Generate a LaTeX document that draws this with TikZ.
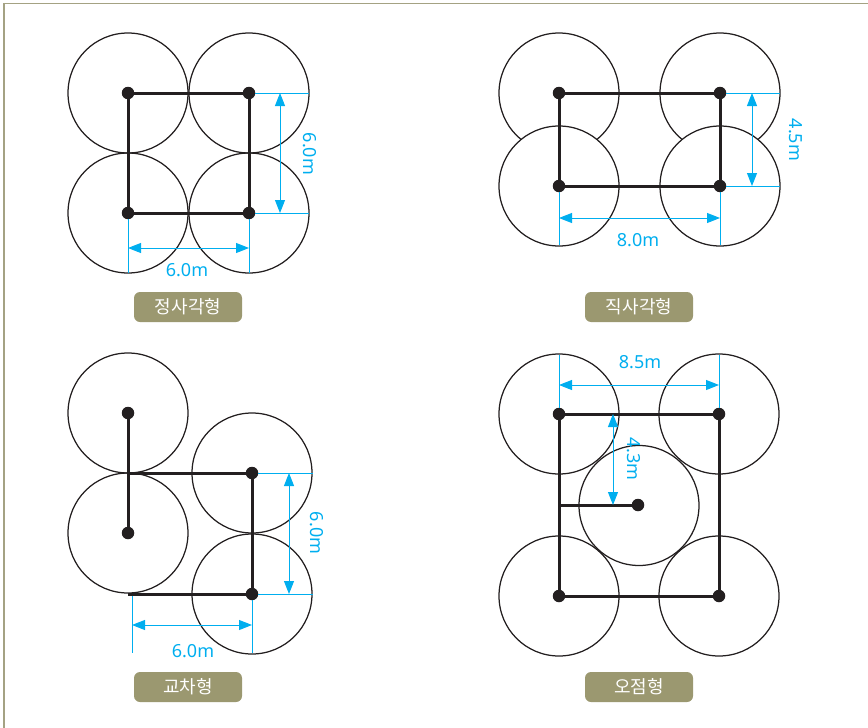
\documentclass[tikz,border=0pt]{standalone}
\usepackage{fontspec}
\setmainfont{Noto Sans}
\newfontfamily\kr{Noto Sans CJK KR}
\usetikzlibrary{arrows.meta}
\definecolor{dimc}{HTML}{00AEEF}
\definecolor{tagc}{HTML}{9B9870}
\definecolor{framec}{HTML}{A4A283}
\definecolor{ink}{HTML}{231F20}
\pgfdeclarelayer{bg}
\pgfsetlayers{bg,main}
\begin{document}
\begin{tikzpicture}[x=1pt,y=-1pt,
  crown/.style={draw=ink, line width=1.25pt},
  crownw/.style={draw=ink, line width=1.25pt, fill=white},
  beam/.style={draw=ink, line width=3pt},
  dot/.style={circle, fill=ink, inner sep=0pt, minimum size=12.5pt},
  ext/.style={draw=dimc, line width=1pt},
  dimarrow/.style={draw=dimc, line width=1pt, {Triangle[length=13pt,width=10pt]}-{Triangle[length=13pt,width=10pt]}},
  dimtxt/.style={text=dimc, inner sep=0pt, font=\fontsize{18}{18}\selectfont},
  tag/.style={fill=tagc, rounded corners=6pt, minimum width=108pt, minimum height=30pt, inner sep=0pt, text=white, font=\kr\fontsize{18}{18}\selectfont}
]
\useasboundingbox (0,0) rectangle (868,728);
% frame
\draw[framec, line width=1.3pt] (4,728) -- (4,3.5) -- (868,3.5);

% ---------------- Panel 1: square ----------------
\node[dot] (a1) at (128,93) {};
\node[dot] (b1) at (249,93) {};
\node[dot] (c1) at (128,213) {};
\node[dot] (d1) at (249,213) {};
\begin{pgfonlayer}{bg}
  \foreach \n in {a1,b1,c1,d1} \draw[crown] (\n.center) circle[radius=60pt];
\end{pgfonlayer}
\draw[beam] (a1.center) -- (b1.center) -- (d1.center) -- (c1.center) -- cycle;
\coordinate (v1a) at (309,93);
\coordinate (v1b) at (309,213);
\draw[ext] (b1.east) -- (v1a);
\draw[ext] (d1.east) -- (v1b);
\coordinate (v1s) at (280,93);
\coordinate (v1e) at (280,213);
\draw[dimarrow] (v1s) -- (v1e);
\node[dimtxt, rotate=-90] (t1v) at (310,154) {6.0m};
\coordinate (h1a) at (128,273);
\coordinate (h1b) at (249,273);
\draw[ext] (c1.south) -- (h1a);
\draw[ext] (d1.south) -- (h1b);
\coordinate (h1s) at (128,248);
\coordinate (h1e) at (249,248);
\draw[dimarrow] (h1s) -- (h1e);
\node[dimtxt] (t1h) at (187,270) {6.0m};
\node[tag] (tag1) at (188,307) {정사각형};

% ---------------- Panel 2: rectangle ----------------
\node[dot] (a2) at (559,93) {};
\node[dot] (b2) at (720,93) {};
\node[dot] (c2) at (559,186) {};
\node[dot] (d2) at (720,186) {};
\begin{pgfonlayer}{bg}
  \draw[crown] (a2.center) circle[radius=60pt];
  \draw[crown] (b2.center) circle[radius=60pt];
  \draw[crownw] (c2.center) circle[radius=60pt];
  \draw[crownw] (d2.center) circle[radius=60pt];
\end{pgfonlayer}
\draw[beam] (a2.center) -- (b2.center) -- (d2.center) -- (c2.center) -- cycle;
\coordinate (v2a) at (780,93);
\coordinate (v2b) at (780,186);
\draw[ext] (b2.east) -- (v2a);
\draw[ext] (d2.east) -- (v2b);
\coordinate (v2s) at (752,93);
\coordinate (v2e) at (752,186);
\draw[dimarrow] (v2s) -- (v2e);
\node[dimtxt, rotate=-90] (t2v) at (796,140) {4.5m};
\coordinate (h2a) at (559,245);
\coordinate (h2b) at (720,245);
\draw[ext] (c2.south) -- (h2a);
\draw[ext] (d2.south) -- (h2b);
\coordinate (h2s) at (559,218);
\coordinate (h2e) at (720,218);
\draw[dimarrow] (h2s) -- (h2e);
\node[dimtxt] (t2h) at (638,240) {8.0m};
\node[tag] (tag2) at (639,307) {직사각형};

% ---------------- Panel 3: staggered ----------------
\node[dot] (a3) at (128,413) {};
\node[dot] (c3) at (128,533) {};
\node[dot] (b3) at (252,473) {};
\node[dot] (d3) at (252,594) {};
\coordinate (j3) at (128,473);
\coordinate (k3) at (128,594);
\begin{pgfonlayer}{bg}
  \foreach \n in {a3,c3,b3,d3} \draw[crown] (\n.center) circle[radius=60pt];
\end{pgfonlayer}
\draw[beam] (a3.center) -- (c3.center);
\draw[beam] (j3) -- (b3.center) -- (d3.center) -- (k3);
\coordinate (v3a) at (313,473);
\coordinate (v3b) at (313,594);
\draw[ext] (b3.east) -- (v3a);
\draw[ext] (d3.east) -- (v3b);
\coordinate (v3s) at (289,473);
\coordinate (v3e) at (289,594);
\draw[dimarrow] (v3s) -- (v3e);
\node[dimtxt, rotate=-90] (t3v) at (317,533) {6.0m};
\coordinate (h3t) at (132,596);
\coordinate (h3a) at (132,653);
\coordinate (h3b) at (252,653);
\draw[ext] (h3t) -- (h3a);
\draw[ext] (d3.south) -- (h3b);
\coordinate (h3s) at (132,625);
\coordinate (h3e) at (252,625);
\draw[dimarrow] (h3s) -- (h3e);
\node[dimtxt] (t3h) at (193,651) {6.0m};
\node[tag] (tag3) at (188,687) {교차형};

% ---------------- Panel 4: quincunx ----------------
\node[dot] (a4) at (559,414) {};
\node[dot] (b4) at (719,414) {};
\node[dot] (e4) at (638,505) {};
\node[dot] (c4) at (559,596) {};
\node[dot] (d4) at (719,596) {};
\coordinate (j4) at (559,505);
\begin{pgfonlayer}{bg}
  \foreach \n in {a4,b4,c4,d4} \draw[crown] (\n.center) circle[radius=60pt];
  \draw[crown] (639,505.5) circle[radius=60pt];
\end{pgfonlayer}
\draw[beam] (a4.center) -- (b4.center) -- (d4.center) -- (c4.center) -- cycle;
\draw[beam] (j4) -- (e4.center);
\coordinate (h4a) at (559,355);
\coordinate (h4b) at (719,355);
\draw[ext] (h4a) -- (a4.north);
\draw[ext] (h4b) -- (b4.north);
\coordinate (h4s) at (559,385);
\coordinate (h4e) at (719,385);
\draw[dimarrow] (h4s) -- (h4e);
\node[dimtxt] (t4h) at (640,362) {8.5m};
\coordinate (v4s) at (613,414);
\coordinate (v4e) at (613,505);
\draw[dimarrow] (v4s) -- (v4e);
\node[dimtxt, rotate=-90] (t4v) at (634,459) {4.3m};
\node[tag] (tag4) at (639,687) {오점형};
\end{tikzpicture}
\end{document}
